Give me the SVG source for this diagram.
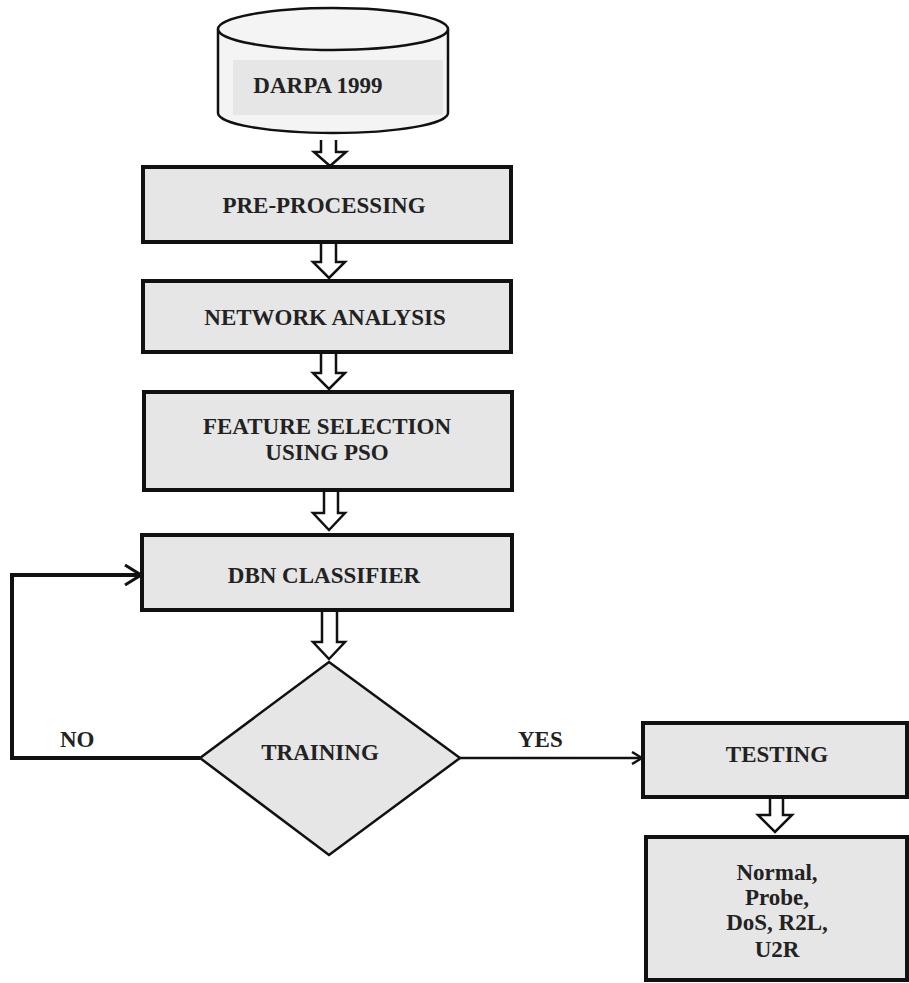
<svg xmlns="http://www.w3.org/2000/svg" width="909" height="983" viewBox="0 0 909 983">
  <style>
    .box { fill: #e6e6e6; stroke: #111; stroke-width: 4; }
    .thin { fill: #e6e6e6; stroke: #111; stroke-width: 2.5; }
    .label { font-family: 'Liberation Serif', 'DejaVu Serif', serif; font-weight: 700; font-size: 23px; fill: #222; text-anchor: middle; }
    .side { text-anchor: start; }
    .block { fill: #fff; stroke: #111; stroke-width: 2.5; stroke-linejoin: miter; }
    .line { fill: none; stroke: #111; }
  </style>
  <defs>
    <marker id="chev" viewBox="0 0 12 14" refX="11" refY="7" markerWidth="12" markerHeight="14" markerUnits="userSpaceOnUse" orient="auto">
      <path d="M1,1 L11,7 L1,13" fill="none" stroke="#111" stroke-width="2.5"/>
    </marker>
    <marker id="chevBig" viewBox="0 0 18 22" refX="17" refY="11" markerWidth="18" markerHeight="22" markerUnits="userSpaceOnUse" orient="auto">
      <path d="M1,1 L17,11 L1,21" fill="none" stroke="#111" stroke-width="3"/>
    </marker>
  </defs>

  <rect width="909" height="983" fill="#fff"/>

  <!-- data source cylinder -->
  <g id="darpa">
    <path d="M218,29 V113 A115,20 0 0 0 448,113 V29" fill="#f4f4f4" stroke="#111" stroke-width="2.5"/>
    <rect x="233" y="60" width="210" height="55" fill="#e6e6e6"/>
    <ellipse cx="333" cy="29" rx="115" ry="21" fill="#f4f4f4" stroke="#111" stroke-width="2.5"/>
    <text class="label" x="318" y="93">DARPA 1999</text>
  </g>

  <g id="preprocessing">
    <rect class="box" x="143" y="167" width="368" height="75"/>
    <text class="label" x="324" y="213">PRE-PROCESSING</text>
  </g>

  <g id="network-analysis">
    <rect class="box" x="143" y="281" width="368" height="71"/>
    <text class="label" x="325" y="325">NETWORK ANALYSIS</text>
  </g>

  <g id="feature-selection">
    <rect class="box" x="144" y="392" width="368" height="98"/>
    <text class="label" x="327" y="434">FEATURE SELECTION</text>
    <text class="label" x="327" y="460">USING PSO</text>
  </g>

  <g id="dbn-classifier">
    <rect class="box" x="142" y="535" width="370" height="75"/>
    <text class="label" x="324" y="583">DBN CLASSIFIER</text>
  </g>

  <g id="training">
    <polygon class="thin" points="329,662 460,758 329,855 200,758"/>
    <text class="label" x="320" y="760">TRAINING</text>
  </g>

  <g id="testing">
    <rect class="box" x="643" y="723" width="264" height="74"/>
    <text class="label" x="777" y="762">TESTING</text>
  </g>

  <g id="classes">
    <rect class="box" x="646" y="837" width="261" height="143"/>
    <text class="label" x="777" y="880">Normal,</text>
    <text class="label" x="777" y="905">Probe,</text>
    <text class="label" x="777" y="930">DoS, R2L,</text>
    <text class="label" x="777" y="957">U2R</text>
  </g>

  <!-- connectors -->
  <g id="connectors">
    <!-- hollow block arrows between stages -->
    <path class="block" d="M321,140 V152 H314 L330,166 L346,152 H336 V140"/>
    <path class="block" d="M321,244 V262 H313 L329,278 L345,262 H336 V244"/>
    <path class="block" d="M321,354 V373 H313 L329,389 L345,373 H336 V354"/>
    <path class="block" d="M324,492 V513 H313 L329,530 L345,513 H338 V492"/>
    <path class="block" d="M322,612 V642 H313 L329,659 L345,642 H337 V612"/>
    <path class="block" d="M770,799 V815 H758 L775,832 L792,815 H783 V799"/>

    <!-- NO: loop back to the classifier -->
    <path class="line" d="M200,758 H12 V575 H141" stroke-width="4" marker-end="url(#chevBig)"/>
    <text class="label side" x="60" y="747">NO</text>

    <!-- YES: on to testing -->
    <path class="line" d="M460,758 H642" stroke-width="2.5" marker-end="url(#chev)"/>
    <text class="label side" x="518" y="747">YES</text>
  </g>
</svg>
